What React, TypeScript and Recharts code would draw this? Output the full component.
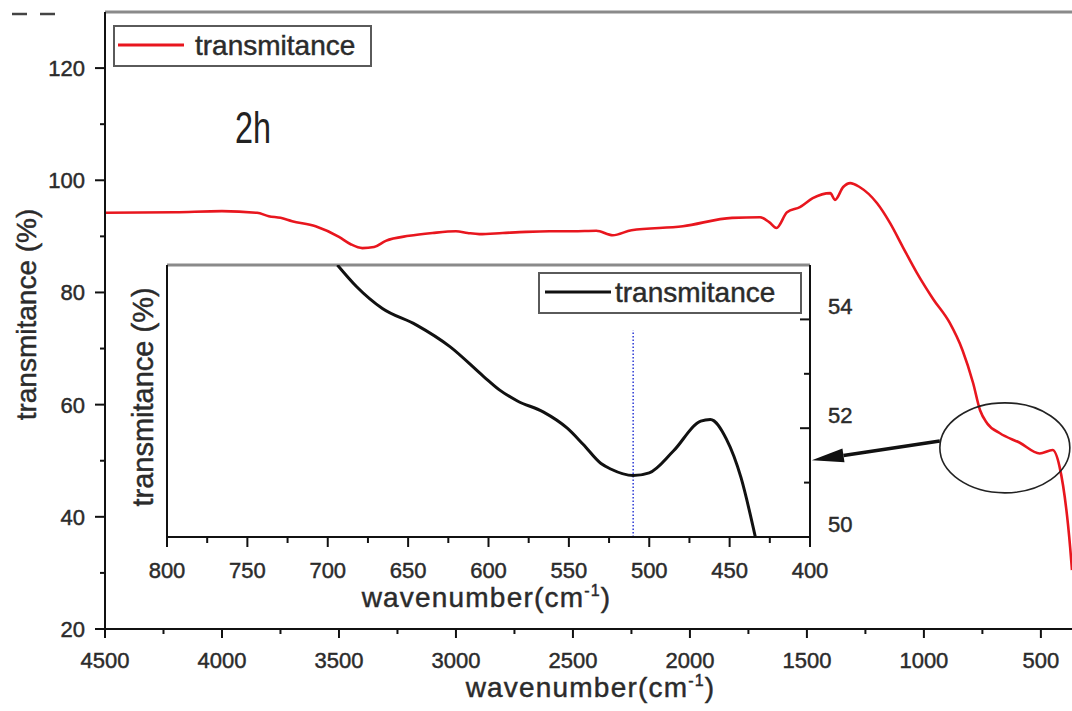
import React from "react";
import {
  LineChart,
  Line,
  XAxis,
  YAxis,
  ReferenceLine,
  ReferenceDot,
  Legend,
} from "recharts";

const FONT = '"Liberation Sans", Arial, sans-serif';
const INK = "#2b2b2b";
const AXIS = "#111";
// slightly heavier glyphs for all labels
const TEXT_WEIGHT = { stroke: INK, strokeWidth: 0.45 };

// full FTIR scan (2h sample)
const wavenumber = [
  4500, 4200, 4000, 3850, 3800, 3750, 3700, 3600, 3500, 3450, 3400, 3350,
  3300, 3200, 3100, 3000, 2950, 2900, 2800, 2700, 2600, 2500, 2400, 2330,
  2250, 2030, 1820, 1700, 1660, 1630, 1585, 1530, 1475, 1400, 1380, 1345,
  1315, 1275, 1200, 1145, 1090, 1030, 960, 890, 835, 790, 760, 730, 675, 590,
  505, 450, 420, 375, 367,
];
const transmitance = [
  94.2, 94.3, 94.5, 94.2, 93.6, 93.3, 92.7, 91.8, 89.9, 88.6, 87.9, 88.1,
  89.2, 90.1, 90.6, 90.9, 90.6, 90.4, 90.6, 90.8, 90.9, 90.9, 91.0, 90.2,
  91.1, 91.8, 93.3, 93.4, 92.5, 91.5, 94.3, 95.2, 96.8, 97.7, 96.5, 98.8,
  99.5, 98.8, 95.9, 92.4, 88.1, 83.5, 78.8, 74.6, 69.7, 63.9, 59.0, 56.7,
  54.9, 53.2, 51.3, 51.9, 48.9, 34.6, 30.5,
];

// zoom on the 800-400 cm-1 region
const zoomWavenumber = [
  694, 682, 666, 645, 624, 603, 593, 582, 566, 551, 541, 530, 524, 510, 500,
  485, 468, 462, 452, 443, 434,
];
const zoomTransmitance = [
  55.0, 54.6, 54.2, 53.9, 53.5, 52.95, 52.7, 52.5, 52.3, 52.0, 51.7, 51.35,
  51.25, 51.13, 51.18, 51.58, 52.13, 52.16, 51.8, 51.1, 50.0,
];

const mainXTicks = [
  4500, 4250, 4000, 3750, 3500, 3250, 3000, 2750, 2500, 2250, 2000, 1750,
  1500, 1250, 1000, 750, 500,
];
const mainYTicks = [20, 30, 40, 50, 60, 70, 80, 90, 100, 110, 120];
const zoomXTicks = [
  800, 775, 750, 725, 700, 675, 650, 625, 600, 575, 550, 525, 500, 475, 450,
  425, 400,
];
const zoomYTicks = [50, 51, 52, 53, 54];

// marked minimum in the zoomed band
const minimumAt = 510;
const minimumMarkTop = 53.8;

// circled region on the full scan and where the pointer starts/ends
const circleCenter = { x: 654, y: 52.3 };
const pointerFrom = { x: 932, y: 53.5 };
const pointerTo = { x: 1479, y: 50.1 };

const mainRows = wavenumber.map((w, i) => ({ w, t: transmitance[i] }));
const zoomRows = zoomWavenumber.map((w, i) => ({ w, t: zoomTransmitance[i] }));

const MainXTick = ({ x, y, payload }: any) => {
  const major = payload.value % 500 === 0;
  return (
    <g>
      <line x1={x} x2={x} y1={y} y2={y + (major ? 9 : 5)} stroke={AXIS} strokeWidth={2} />
      {major && (
        <text x={x} y={y + 39} textAnchor="middle" fontSize={22} fill={INK} fontFamily={FONT} {...TEXT_WEIGHT}>
          {payload.value}
        </text>
      )}
    </g>
  );
};

const MainYTick = ({ x, y, payload }: any) => {
  const major = payload.value % 20 === 0;
  return (
    <g>
      <line x1={x} x2={x - (major ? 10 : 5)} y1={y} y2={y} stroke={AXIS} strokeWidth={2} />
      {major && (
        <text x={x - 20} y={y + 8} textAnchor="end" fontSize={22} fill={INK} fontFamily={FONT} {...TEXT_WEIGHT}>
          {payload.value}
        </text>
      )}
    </g>
  );
};

const ZoomXTick = ({ x, y, payload }: any) => {
  const major = payload.value % 50 === 0;
  return (
    <g>
      <line x1={x} x2={x} y1={y} y2={y + (major ? 10 : 6)} stroke={AXIS} strokeWidth={2} />
      {major && (
        <text x={x} y={y + 41} textAnchor="middle" fontSize={22} fill={INK} fontFamily={FONT} {...TEXT_WEIGHT}>
          {payload.value}
        </text>
      )}
    </g>
  );
};

const ZoomYTick = ({ x, y, payload }: any) => {
  const major = payload.value % 2 === 0;
  return (
    <g>
      <line x1={x} x2={x - (major ? 10 : 6)} y1={y} y2={y} stroke={AXIS} strokeWidth={2} />
      {major && (
        <text x={x + 18} y={y - 5} textAnchor="start" fontSize={22} fill={INK} fontFamily={FONT} {...TEXT_WEIGHT}>
          {payload.value}
        </text>
      )}
    </g>
  );
};

const wavenumberTitle = (dx: number, dy: number) => (props: any) => {
  const vb = props.viewBox || { x: 0, y: 0, width: 0, height: 0 };
  return (
    <text
      x={vb.x + vb.width / 2 + dx}
      y={vb.y + dy}
      textAnchor="middle"
      fontSize={28}
      letterSpacing={1.2}
      fill={INK}
      fontFamily={FONT}
      {...TEXT_WEIGHT}
    >
      wavenumber(cm
      <tspan fontSize={16} dy={-11}>-1</tspan>
      <tspan dy={11}>)</tspan>
    </text>
  );
};

const transmitanceTitle = (cx: number, dy: number, size: number) => (props: any) => {
  const vb = props.viewBox || { x: 0, y: 0, width: 0, height: 0 };
  const cy = vb.y + vb.height / 2 + dy;
  const x = vb.x + cx;
  return (
    <text
      x={x}
      y={cy}
      transform={`rotate(-90 ${x} ${cy})`}
      textAnchor="middle"
      dominantBaseline="central"
      fontSize={size}
      fill={INK}
      fontFamily={FONT}
      {...TEXT_WEIGHT}
    >
      transmitance (%)
    </text>
  );
};

const LegendBox = ({ payload, width, lineStart, textStart }: any) => {
  const item = payload && payload[0];
  return (
    <svg width={width} height={42} style={{ display: "block" }}>
      <rect x={1} y={1} width={width - 2} height={40} fill="#fff" stroke="#5a5a5a" strokeWidth={2} />
      <line x1={lineStart} x2={lineStart + 66} y1={20} y2={20} stroke={item ? item.color : "#000"} strokeWidth={3} />
      <text x={textStart} y={30} fontSize={28} fill={INK} fontFamily={FONT} {...TEXT_WEIGHT}>
        {item ? item.value : ""}
      </text>
    </svg>
  );
};

const Circle = (p: any) => (
  <ellipse cx={p.cx} cy={p.cy} rx={65} ry={45} fill="none" stroke="#222" strokeWidth={1.6} />
);

const Pointer = (p: any) => {
  const { x1, y1, x2, y2 } = p;
  const len = Math.hypot(x2 - x1, y2 - y1) || 1;
  const ux = (x2 - x1) / len;
  const uy = (y2 - y1) / len;
  const bx = x2 - ux * 32;
  const by = y2 - uy * 32;
  const nx = -uy * 7;
  const ny = ux * 7;
  return (
    <g>
      <line x1={x1} y1={y1} x2={bx} y2={by} stroke="#111" strokeWidth={3.5} />
      <polygon
        points={`${x2},${y2} ${bx + nx},${by + ny} ${bx - nx},${by - ny}`}
        fill="#111"
      />
    </g>
  );
};

const App = () => (
  <div
    style={{
      position: "absolute",
      left: 0,
      top: 0,
      width: 1072,
      height: 711,
      overflow: "hidden",
      background: "#fff",
      fontFamily: FONT,
    }}
  >
    <LineChart width={1072} height={711} data={mainRows} margin={{ top: 12, right: 0, bottom: 0, left: 0 }}>
      <XAxis
        dataKey="w"
        type="number"
        domain={[367, 4500]}
        reversed
        ticks={mainXTicks}
        interval={0}
        height={82}
        tickSize={0}
        tickMargin={0}
        tickLine={false}
        tick={MainXTick}
        axisLine={{ stroke: AXIS, strokeWidth: 2 }}
        label={wavenumberTitle(2, 68)}
      />
      <YAxis
        type="number"
        domain={[20, 130]}
        ticks={mainYTicks}
        interval={0}
        width={105}
        tickSize={0}
        tickMargin={0}
        tickLine={false}
        tick={MainYTick}
        axisLine={{ stroke: AXIS, strokeWidth: 2 }}
        label={transmitanceTitle(26, -6, 28)}
      />
      <ReferenceLine y={130} stroke="#8a8a8a" strokeWidth={3} />
      <Line
        name="transmitance"
        type="monotone"
        dataKey="t"
        stroke="#e8161e"
        strokeWidth={2.6}
        dot={false}
        isAnimationActive={false}
      />
      <ReferenceDot x={circleCenter.x} y={circleCenter.y} r={0} shape={Circle} />
      <ReferenceLine
        segment={[pointerFrom, pointerTo]}
        ifOverflow="visible"
        shape={Pointer}
      />
      <Legend
        layout="vertical"
        align="center"
        verticalAlign="middle"
        wrapperStyle={{ left: 113, top: 25, width: 259, height: 42 }}
        content={(p: any) => <LegendBox {...p} width={259} lineStart={5} textStart={82} />}
      />
    </LineChart>

    <svg width={1072} height={711} style={{ position: "absolute", left: 0, top: 0, pointerEvents: "none" }}>
      <line x1={12} x2={27} y1={14} y2={14} stroke="#444" strokeWidth={2.5} />
      <line x1={40} x2={55} y1={14} y2={14} stroke="#444" strokeWidth={2.5} />
      <text
        x={235}
        y={143}
        fontSize={44}
        textLength={36}
        lengthAdjust="spacingAndGlyphs"
        fill="#222"
        fontFamily='"Liberation Sans Narrow", "Liberation Sans", Arial, sans-serif'
      >
        2h
      </text>
    </svg>

    <div style={{ position: "absolute", left: 100, top: 255 }}>
      <LineChart width={800} height={380} data={zoomRows} margin={{ top: 10, right: 0, bottom: 0, left: 0 }}>
        <XAxis
          dataKey="w"
          type="number"
          domain={[400, 800]}
          reversed
          ticks={zoomXTicks}
          interval={0}
          height={98}
          tickSize={0}
          tickMargin={0}
          tickLine={false}
          tick={ZoomXTick}
          axisLine={{ stroke: AXIS, strokeWidth: 2 }}
          label={wavenumberTitle(-2, 70)}
        />
        <YAxis
          yAxisId="l"
          orientation="left"
          type="number"
          domain={[50, 55]}
          width={67}
          tick={false}
          tickLine={false}
          axisLine={{ stroke: AXIS, strokeWidth: 2 }}
          label={transmitanceTitle(43, -4, 29)}
        />
        <YAxis
          yAxisId="r"
          orientation="right"
          type="number"
          domain={[50, 55]}
          allowDataOverflow
          ticks={zoomYTicks}
          interval={0}
          width={90}
          tickSize={0}
          tickMargin={0}
          tickLine={false}
          tick={ZoomYTick}
          axisLine={{ stroke: AXIS, strokeWidth: 2 }}
        />
        <ReferenceLine yAxisId="r" y={55} stroke="#8a8a8a" strokeWidth={3} />
        <ReferenceLine
          yAxisId="r"
          segment={[
            { x: minimumAt, y: 50 },
            { x: minimumAt, y: minimumMarkTop },
          ]}
          stroke="#3a46d8"
          strokeWidth={1.6}
          strokeDasharray="1.5 2"
        />
        <Line
          yAxisId="r"
          name="transmitance"
          type="monotone"
          dataKey="t"
          stroke="#111"
          strokeWidth={3}
          dot={false}
          isAnimationActive={false}
        />
        <Legend
          layout="vertical"
          align="center"
          verticalAlign="middle"
          wrapperStyle={{ left: 438, top: 17, width: 264, height: 42 }}
          content={(p: any) => <LegendBox {...p} width={264} lineStart={7} textStart={77} />}
        />
      </LineChart>
    </div>
  </div>
);

export default App;
